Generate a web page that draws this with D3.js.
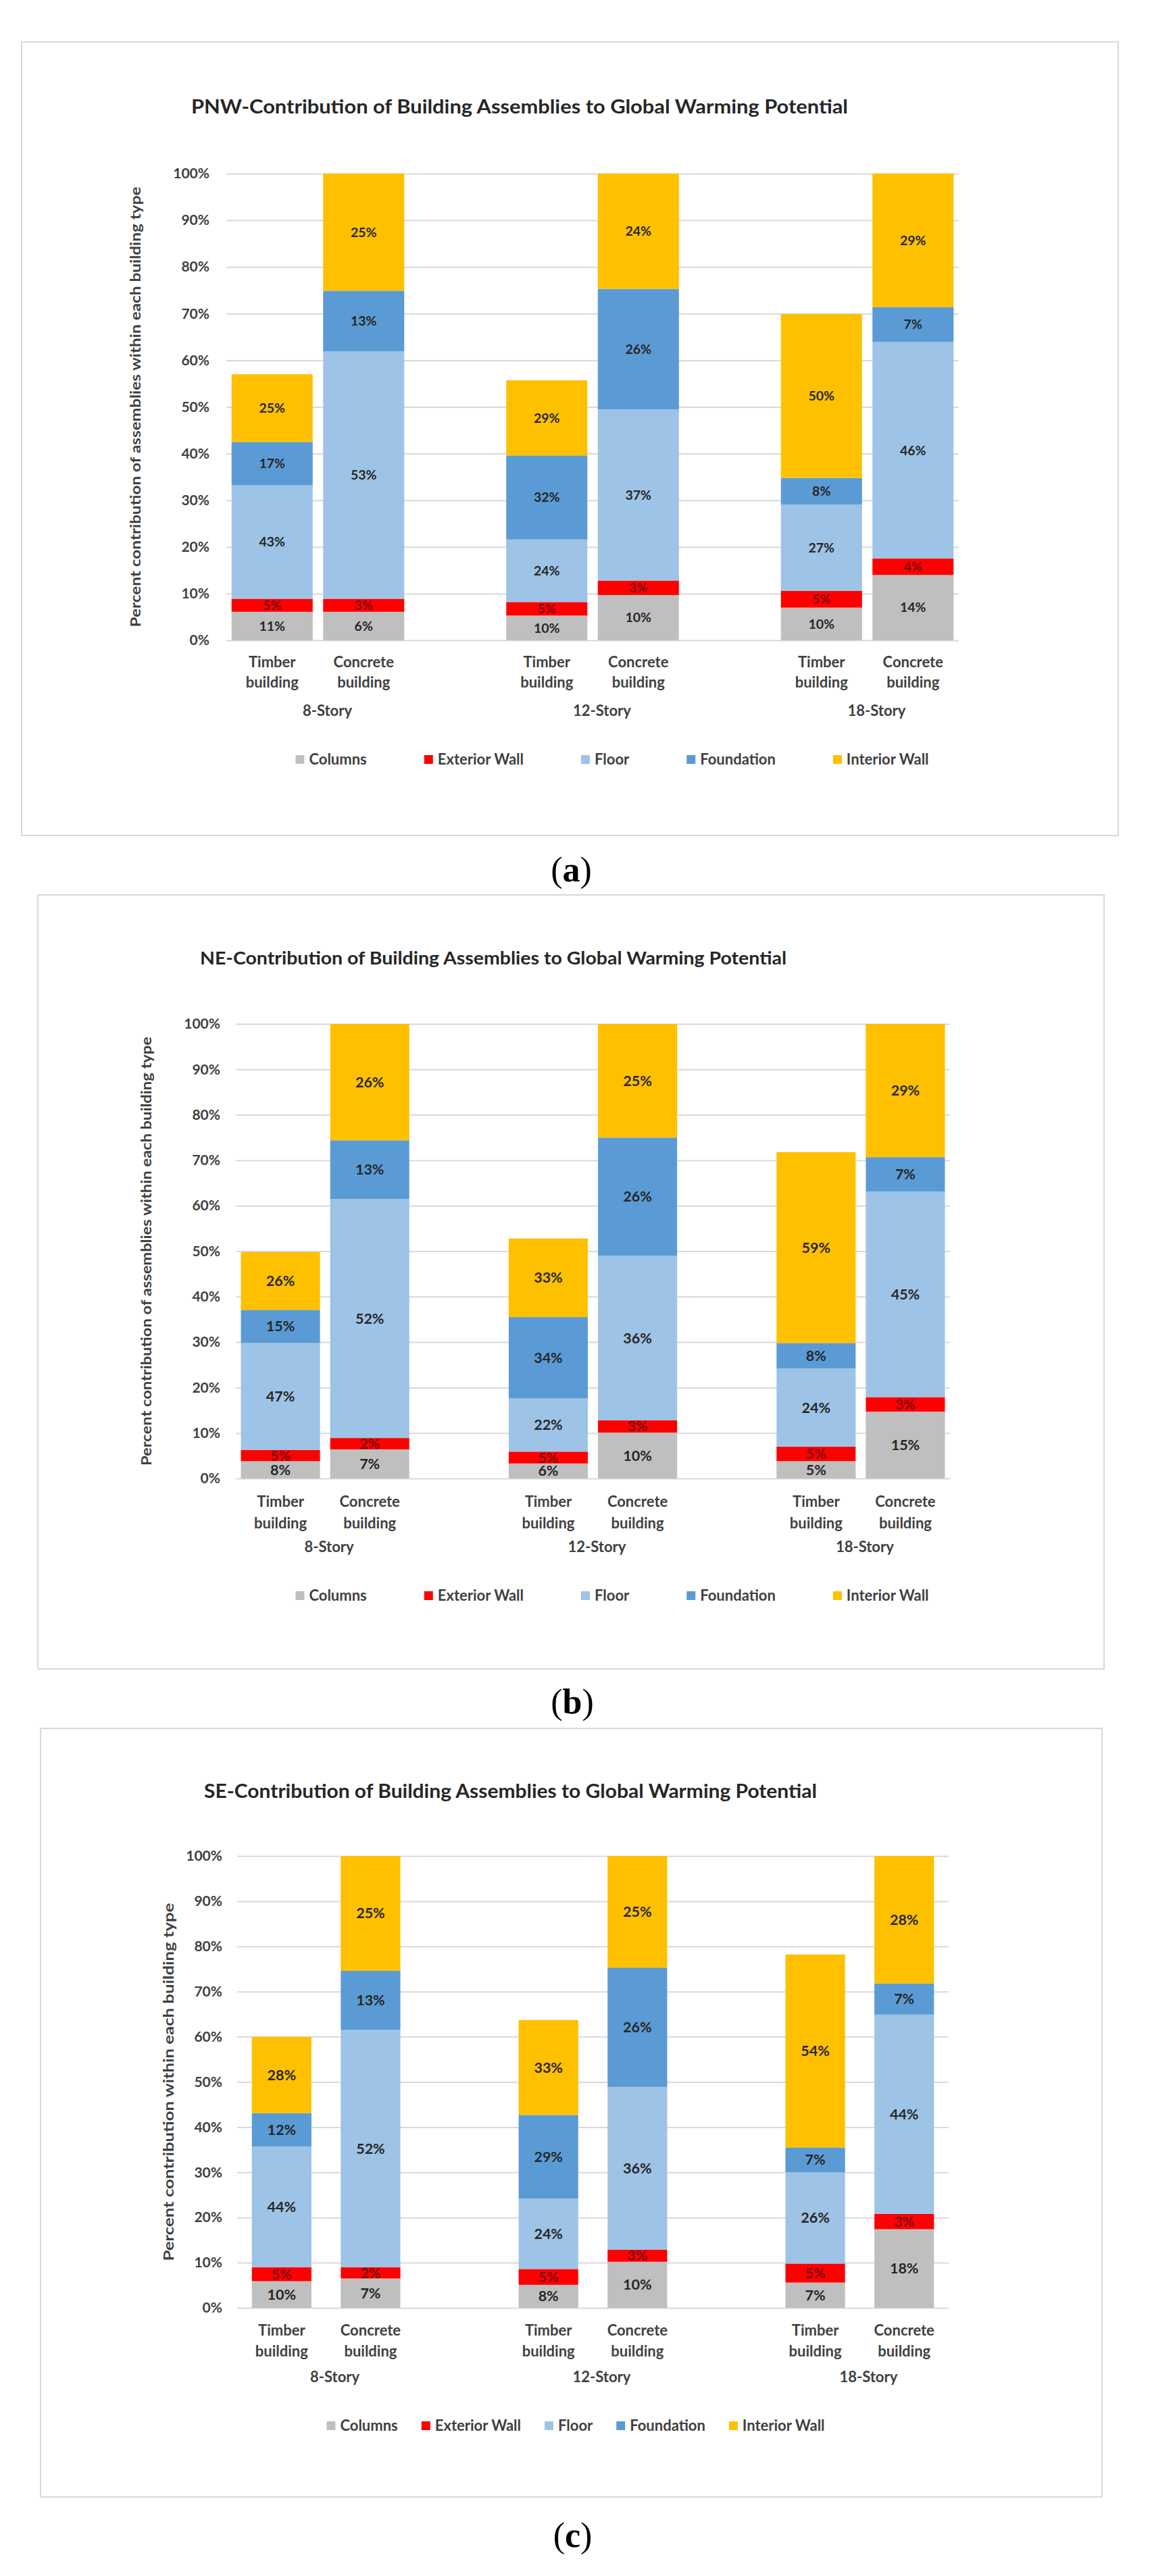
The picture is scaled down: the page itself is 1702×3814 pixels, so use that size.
<!DOCTYPE html>
<html>
<head>
<meta charset="utf-8">
<script src="https://cdn.jsdelivr.net/npm/d3@7"></script>
<style>
  body { margin: 0; background: #fff; }
  svg { display: block; }
</style>
</head>
<body>
<svg id="fig" width="1702" height="3814"></svg>
<script>
// ---- data (heights in % of the concrete building; labels are % within each building) ----
const series = ["Columns", "Exterior Wall", "Floor", "Foundation", "Interior Wall"];
const colors = ["#bfbfbf", "#ff0000", "#9dc3e6", "#5b9bd5", "#ffc000"];
const stories = ["8-Story", "12-Story", "18-Story"];
const buildings = ["Timber building", "Concrete building"];
const yTicks = [0, 10, 20, 30, 40, 50, 60, 70, 80, 90, 100];

// bar order: 8-Story timber, 8-Story concrete, 12 timber, 12 concrete, 18 timber, 18 concrete
const pnwColumns  = [6.1, 6.1, 5.3, 9.7, 7.0, 14.0];
const pnwExterior = [2.8, 2.8, 2.9, 3.1, 3.6, 3.5];
const pnwFloor    = [24.3, 53.0, 13.4, 36.7, 18.5, 46.4];
const pnwFound    = [9.3, 13.0, 18.0, 25.8, 5.7, 7.5];
const pnwInterior = [14.5, 25.1, 16.1, 24.7, 35.1, 28.6];
const pnwLabels = [
  [11, 6, 10, 10, 10, 14],
  [5, 3, 5, 3, 5, 4],
  [43, 53, 24, 37, 27, 46],
  [17, 13, 32, 26, 8, 7],
  [25, 25, 29, 24, 50, 29]
];

const neColumns  = [3.8, 6.4, 3.3, 10.1, 3.8, 14.7];
const neExterior = [2.5, 2.5, 2.6, 2.7, 3.2, 3.2];
const neFloor    = [23.5, 52.6, 11.7, 36.2, 17.2, 45.2];
const neFound    = [7.3, 12.9, 17.9, 26.0, 5.6, 7.6];
const neInterior = [12.7, 25.6, 17.3, 25.0, 42.0, 29.3];
const neLabels = [
  [8, 7, 6, 10, 5, 15],
  [5, 2, 5, 3, 5, 3],
  [47, 52, 22, 36, 24, 45],
  [15, 13, 34, 26, 8, 7],
  [26, 26, 33, 25, 59, 29]
];

const seColumns  = [5.9, 6.5, 5.1, 10.2, 5.6, 17.4];
const seExterior = [3.1, 2.5, 3.5, 2.7, 4.2, 3.4];
const seFloor    = [26.7, 52.5, 15.6, 36.0, 20.2, 44.1];
const seFound    = [7.4, 13.1, 18.5, 26.4, 5.5, 6.9];
const seInterior = [16.9, 25.4, 21.0, 24.7, 42.7, 28.2];
const seLabels = [
  [10, 7, 8, 10, 7, 18],
  [5, 2, 5, 3, 5, 3],
  [44, 52, 24, 36, 26, 44],
  [12, 13, 29, 26, 7, 7],
  [28, 25, 33, 25, 54, 28]
];

const FONT = "Lato, 'Open Sans', sans-serif";
const svg = d3.select("#fig");

const panels = [
  {
    title: "PNW-Contribution of Building Assemblies to Global Warming Potential",
    yTitle: "Percent contribution of assemblies within each building type",
    caption: "a",
    heights: [pnwColumns, pnwExterior, pnwFloor, pnwFound, pnwInterior],
    labels: pnwLabels,
    box: [32, 62, 1655, 1237],
    xRange: [335, 1419], y0: 948, y100: 257, barPad: 0.114, tickPad: 25,
    titleX: 283, titleY: 168, titleLen: 972, titleSize: 29,
    yTitleX: 201, yTitleLen: 652, yTitleSize: 21,
    labSize: 19.5, catY: [988, 1018, 1060], groupDx: 14,
    legY: 1132, legCenter: 906, legGap: 85, capY: 1305
  },
  {
    title: "NE-Contribution of Building Assemblies to Global Warming Potential",
    yTitle: "Percent contribution of assemblies within each building type",
    caption: "b",
    heights: [neColumns, neExterior, neFloor, neFound, neInterior],
    labels: neLabels,
    box: [56, 1325, 1634, 2471],
    xRange: [349, 1406], y0: 2189, y100: 1516, barPad: 0.114, tickPad: 23,
    titleX: 296, titleY: 1428, titleLen: 868, titleSize: 27,
    yTitleX: 217, yTitleLen: 635, yTitleSize: 21,
    labSize: 21.5, catY: [2231, 2263, 2298], groupDx: 6,
    legY: 2370, legCenter: 906, legGap: 85, capY: 2537
  },
  {
    title: "SE-Contribution of Building Assemblies to Global Warming Potential",
    yTitle: "Percent contribution within each building type",
    caption: "c",
    heights: [seColumns, seExterior, seFloor, seFound, seInterior],
    labels: seLabels,
    box: [60, 2559, 1631, 3697],
    xRange: [351, 1404], y0: 3417, y100: 2748, barPad: 0.33, tickPad: 22,
    titleX: 302, titleY: 2662, titleLen: 907, titleSize: 28,
    yTitleX: 250, yTitleLen: 530, yTitleSize: 21,
    labSize: 21.5, catY: [3458, 3489, 3527], groupDx: 13,
    legY: 3599, legCenter: 852, legGap: 35, capY: 3771
  }
];

panels.forEach(p => drawPanel(p));

function drawPanel(p) {
    const g = svg.append("g").attr("font-family", FONT);

    // frame
    g.append("rect")
        .attr("x", p.box[0]).attr("y", p.box[1])
        .attr("width", p.box[2] - p.box[0]).attr("height", p.box[3] - p.box[1])
        .attr("fill", "#fff").attr("stroke", "#d9d9d9").attr("stroke-width", 2);

    const x0 = d3.scaleBand().domain(stories).range(p.xRange).paddingInner(1 / 3).paddingOuter(0);
    const x1 = d3.scaleBand().domain(buildings).range([0, x0.bandwidth()])
        .paddingInner(p.barPad).paddingOuter(p.barPad / 2);
    const y = d3.scaleLinear().domain([0, 100]).range([p.y0, p.y100]);

    // rows for the stack
    const rows = [];
    stories.forEach((s, i) => {
        buildings.forEach((b, j) => {
            const k = i * 2 + j;
            const row = { story: s, building: b, k: k };
            series.forEach((name, n) => { row[name] = p.heights[n][k]; });
            rows.push(row);
        });
    });
    const stacked = d3.stack().keys(series)(rows);

    // gridlines + tick labels
    g.append("g")
        .attr("transform", `translate(${p.xRange[0]},0)`)
        .call(d3.axisLeft(y).tickValues(yTicks).tickFormat(d => d + "%")
            .tickSize(-(p.xRange[1] - p.xRange[0])).tickPadding(p.tickPad))
        .call(a => a.select(".domain").remove())
        .call(a => a.selectAll(".tick line").attr("stroke", "#d9d9d9").attr("stroke-width", 2))
        .call(a => a.selectAll(".tick text")
            .attr("font-family", FONT).attr("font-size", 21).attr("font-weight", 700)
            .attr("fill", "#404040"));

    // bars
    const layer = g.append("g").selectAll("g")
        .data(stacked)
        .join("g")
        .attr("fill", (d, i) => colors[i]);

    layer.selectAll("rect")
        .data(d => d)
        .join("rect")
        .attr("x", d => x0(d.data.story) + x1(d.data.building))
        .attr("width", x1.bandwidth())
        .attr("y", d => y(d[1]))
        .attr("height", d => y(d[0]) - y(d[1]));

    // data labels
    stacked.forEach((s, n) => {
        g.append("g")
            .attr("font-size", p.labSize)
            .attr("font-weight", 700)
            .attr("text-anchor", "middle")
            .attr("fill", n === 1 ? "#7a0a0a" : "#262626")
            .selectAll("text")
            .data(s)
            .join("text")
            .attr("x", d => x0(d.data.story) + x1(d.data.building) + x1.bandwidth() / 2)
            .attr("y", d => y((d[0] + d[1]) / 2))
            .attr("dy", "0.35em")
            .text(d => p.labels[n][d.data.k] + "%");
    });

    // category labels
    stories.forEach(s => {
        buildings.forEach(b => {
            const cx = x0(s) + x1(b) + x1.bandwidth() / 2;
            const words = b.split(" ");
            words.forEach((w, i) => {
                g.append("text")
                    .attr("x", cx).attr("y", p.catY[i])
                    .attr("text-anchor", "middle")
                    .attr("font-size", 22).attr("font-weight", 700)
                    .attr("fill", "#404040")
                    .text(w);
            });
        });
        g.append("text")
            .attr("x", x0(s) + x0.bandwidth() / 2 + p.groupDx).attr("y", p.catY[2])
            .attr("text-anchor", "middle")
            .attr("font-size", 22).attr("font-weight", 700)
            .attr("fill", "#404040")
            .text(s);
    });

    // y axis title
    const yMid = (p.y0 + p.y100) / 2;
    g.append("text")
        .attr("transform", `translate(${p.yTitleX},${yMid}) rotate(-90)`)
        .attr("text-anchor", "middle")
        .attr("dy", "0.35em")
        .attr("font-size", p.yTitleSize).attr("font-weight", 700)
        .attr("fill", "#404040")
        .attr("textLength", p.yTitleLen).attr("lengthAdjust", "spacingAndGlyphs")
        .text(p.yTitle);

    // chart title
    g.append("text")
        .attr("x", p.titleX).attr("y", p.titleY)
        .attr("font-size", p.titleSize).attr("font-weight", 700)
        .attr("fill", "#262626")
        .attr("textLength", p.titleLen).attr("lengthAdjust", "spacingAndGlyphs")
        .text(p.title);

    // legend
    const leg = g.append("g");
    let lx = 0;
    series.forEach((name, i) => {
        leg.append("rect")
            .attr("x", lx).attr("y", p.legY - 14)
            .attr("width", 13).attr("height", 13)
            .attr("fill", colors[i]);
        const t = leg.append("text")
            .attr("x", lx + 20).attr("y", p.legY)
            .attr("font-size", 22).attr("font-weight", 700)
            .attr("fill", "#404040")
            .text(name);
        lx += 20 + t.node().getComputedTextLength() + p.legGap;
    });
    const legW = lx - p.legGap;
    leg.attr("transform", `translate(${p.legCenter - legW / 2},0)`);

    // caption (a)/(b)/(c)
    const cap = svg.append("text")
        .attr("x", (p.box[0] + p.box[2]) / 2 + 2).attr("y", p.capY)
        .attr("text-anchor", "middle")
        .attr("font-family", "'Liberation Serif', 'DejaVu Serif', serif")
        .attr("font-size", 52)
        .attr("fill", "#000");
    cap.append("tspan").text("(");
    cap.append("tspan").attr("font-weight", 700).text(p.caption);
    cap.append("tspan").text(")");
}
</script>
</body>
</html>
